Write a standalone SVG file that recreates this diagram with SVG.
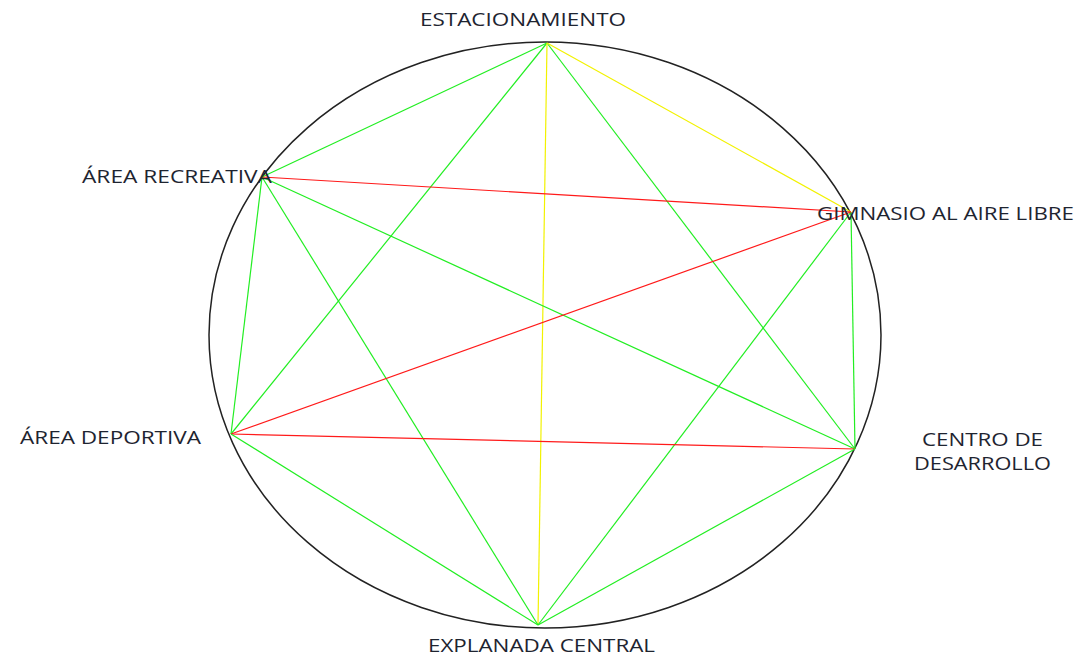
<svg xmlns="http://www.w3.org/2000/svg" width="1075" height="659" viewBox="0 0 1075 659">
<style>
.lbl{font-family:"Open Sans","Liberation Sans",sans-serif;font-size:18px;fill:#1e2430}
.g{stroke:#22ee22;stroke-width:1.2;fill:none}
.y{stroke:#f2f200;stroke-width:1.2;fill:none}
.r{stroke:#ff1a1a;stroke-width:1.2;fill:none}
</style>
<rect width="1075" height="659" fill="#ffffff"/>
<ellipse cx="545" cy="335" rx="336" ry="293" fill="none" stroke="#222" stroke-width="1.5"/>
<g id="connectors">
<line class="g" x1="547" y1="43" x2="262" y2="177"/>
<line class="g" x1="547" y1="43" x2="231" y2="434"/>
<line class="g" x1="547" y1="43" x2="855" y2="449"/>
<line class="y" x1="547" y1="43" x2="851" y2="212"/>
<line class="y" x1="547" y1="43" x2="538" y2="625"/>
<line class="g" x1="262" y1="177" x2="231" y2="434"/>
<line class="g" x1="262" y1="177" x2="855" y2="449"/>
<line class="g" x1="262" y1="177" x2="538" y2="625"/>
<line class="r" x1="262" y1="177" x2="851" y2="212"/>
<line class="g" x1="851" y1="212" x2="855" y2="449"/>
<line class="g" x1="851" y1="212" x2="538" y2="625"/>
<line class="r" x1="851" y1="212" x2="231" y2="434"/>
<line class="r" x1="231" y1="434" x2="855" y2="449"/>
<line class="g" x1="231" y1="434" x2="538" y2="625"/>
<line class="g" x1="855" y1="449" x2="538" y2="625"/>
</g>
<g id="n-estacionamiento"><text class="lbl" x="420" y="26" textLength="206" lengthAdjust="spacingAndGlyphs">ESTACIONAMIENTO</text></g>
<g id="n-recreativa"><text class="lbl" x="82" y="183" textLength="190" lengthAdjust="spacingAndGlyphs">ÁREA RECREATIVA</text></g>
<g id="n-gimnasio"><text class="lbl" x="817" y="220" textLength="257" lengthAdjust="spacingAndGlyphs">GIMNASIO AL AIRE LIBRE</text></g>
<g id="n-deportiva"><text class="lbl" x="20" y="444" textLength="181" lengthAdjust="spacingAndGlyphs">ÁREA DEPORTIVA</text></g>
<g id="n-centro"><text class="lbl" x="922" y="446" textLength="121" lengthAdjust="spacingAndGlyphs">CENTRO DE</text><text class="lbl" x="914" y="470" textLength="137" lengthAdjust="spacingAndGlyphs">DESARROLLO</text></g>
<g id="n-explanada"><text class="lbl" x="428" y="652" textLength="227" lengthAdjust="spacingAndGlyphs">EXPLANADA CENTRAL</text></g>
</svg>
